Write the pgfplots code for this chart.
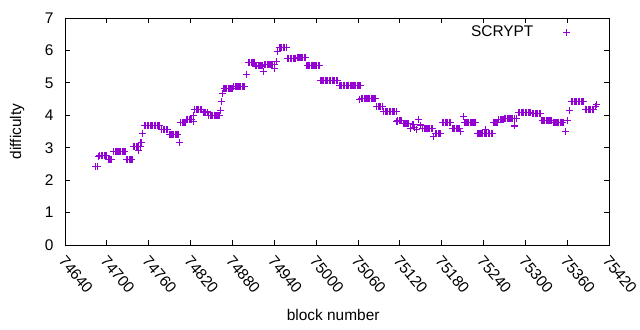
\documentclass[border=0pt]{standalone}
\usepackage{fontspec}
\setmainfont{Liberation Sans}
\usepackage{pgfplots}
\pgfplotsset{compat=1.18}
\definecolor{scrypt}{RGB}{148,0,211}
\begin{document}
\begin{tikzpicture}[font=\fontsize{15.5}{18}\selectfont]
\begin{axis}[
  scale only axis, width=544bp, height=227bp,
  xmin=74640, xmax=75420, ymin=0, ymax=7,
  xtick={74640,74700,...,75420}, ytick={0,1,...,7},
  tick align=inside, major tick length=5bp,
  axis line style={line width=0.8bp}, every tick/.style={line width=0.8bp, black},
  scaled x ticks=false,
  /pgf/number format/1000 sep={},
  /pgf/number format/assume math mode=true,
  xticklabel style={rotate=-50, anchor=north west, inner sep=1bp, yshift=-4bp, xshift=7bp},
  yticklabel style={xshift=-8bp},
  xlabel={block number}, ylabel={difficulty},
  every axis x label/.style={at={(axis description cs:0.493,-0.308)}, anchor=center},
  every axis y label/.style={at={(axis description cs:-0.088,0.5)}, rotate=90, anchor=center},
  legend plot pos=right, legend cell align=right,
  legend image code/.code={\path (0bp,0bp) (36bp,0bp); \draw[scrypt, line width=0.8bp] (27.5bp,0bp) -- (34.5bp,0bp) (31bp,-3.5bp) -- (31bp,3.5bp);},
  legend style={draw=none, fill=none, at={(1,1)}, anchor=north east, xshift=-34bp, yshift=-4bp},
]
\addplot[only marks, mark=+, mark size=3.5bp, color=scrypt, draw=scrypt, mark options={draw=scrypt, line width=1.1bp}] coordinates {
(74684,2.43)(74686,2.43)(74688,2.74)
(74690,2.76)(74692,2.76)(74694,2.76)(74696,2.76)(74698,2.76)(74700,2.76)
(74702,2.65)(74704,2.65)(74706,2.65)
(74710,2.87)(74712,2.87)(74714,2.87)(74716,2.87)(74718,2.87)(74720,2.87)(74722,2.87)(74724,2.87)(74726,2.87)
(74728,2.63)(74730,2.63)(74732,2.63)(74734,2.63)(74736,2.63)
(74738,3.05)(74740,3.05)(74742,3.05)(74744,3.05)(74746,3.05)(74748,3.05)
(74746,2.92)(74749,3.17)(74751,3.44)
(74754,3.68)(74756,3.68)(74758,3.68)(74760,3.68)(74762,3.68)(74764,3.68)(74766,3.68)(74768,3.68)(74770,3.68)(74772,3.68)(74774,3.68)(74776,3.68)
(74779,3.55)(74781,3.55)(74783,3.55)(74785,3.55)(74787,3.55)
(74790,3.42)(74792,3.42)(74794,3.42)(74796,3.42)(74798,3.42)(74800,3.42)(74802,3.42)
(74804,3.17)
(74806,3.78)(74808,3.78)(74810,3.78)(74812,3.78)
(74814,3.87)(74816,3.87)(74818,3.87)(74820,3.87)(74822,3.87)
(74824,4.0)(74824,3.8)
(74826,4.18)(74828,4.18)(74830,4.18)(74832,4.18)(74834,4.18)(74836,4.18)
(74838,4.1)(74840,4.1)(74842,4.1)(74844,4.1)
(74846,4.0)(74848,4.0)(74850,4.0)(74852,4.0)(74854,4.0)(74856,4.0)(74858,4.0)(74860,4.0)(74862,4.0)
(74863,4.16)(74865,4.42)(74866,4.68)
(74868,4.83)(74870,4.83)(74872,4.83)(74874,4.83)(74876,4.83)(74878,4.83)(74880,4.83)
(74882,4.88)(74884,4.88)(74886,4.88)(74888,4.88)(74890,4.88)(74892,4.88)(74894,4.88)(74896,4.88)(74898,4.88)
(74900,5.26)
(74903,5.64)(74905,5.64)(74907,5.64)(74909,5.64)(74911,5.64)
(74913,5.52)(74915,5.52)(74917,5.52)(74919,5.52)(74921,5.52)(74923,5.52)
(74924,5.35)
(74926,5.57)(74928,5.57)(74930,5.57)(74932,5.57)(74934,5.57)(74936,5.57)(74938,5.57)(74940,5.57)
(74941,5.45)(74943,5.65)(74945,5.96)
(74947,6.1)(74949,6.1)(74951,6.1)(74953,6.1)(74955,6.1)(74957,6.1)
(74959,5.76)(74961,5.76)(74963,5.76)(74965,5.76)(74967,5.76)(74969,5.76)(74971,5.76)
(74973,5.79)(74975,5.79)(74977,5.79)(74979,5.79)(74981,5.79)(74983,5.79)(74985,5.79)
(74987,5.54)(74989,5.54)(74991,5.54)(74993,5.54)(74995,5.54)(74997,5.54)(74999,5.54)(75001,5.54)(75003,5.54)(75005,5.54)
(75007,5.08)(75009,5.08)(75011,5.08)(75013,5.08)(75015,5.08)(75017,5.08)(75019,5.08)(75021,5.08)(75023,5.08)(75025,5.08)(75027,5.08)(75029,5.08)(75031,5.08)
(75033,4.93)(75035,4.93)(75037,4.93)(75039,4.93)(75041,4.93)(75043,4.93)(75045,4.93)(75047,4.93)(75049,4.93)(75051,4.93)(75053,4.93)(75055,4.93)(75057,4.93)(75059,4.93)(75061,4.93)(75063,4.93)
(75062,4.49)
(75065,4.52)(75067,4.52)(75069,4.52)(75071,4.52)(75073,4.52)(75075,4.52)(75077,4.52)(75079,4.52)(75081,4.52)(75083,4.52)(75085,4.52)
(75087,4.28)(75089,4.28)(75091,4.28)(75093,4.28)(75095,4.28)
(75097,4.12)(75099,4.12)(75101,4.12)(75103,4.12)(75105,4.12)(75107,4.12)(75109,4.12)(75111,4.12)(75113,4.12)(75115,4.12)
(75116,3.8)
(75117,3.83)(75119,3.83)(75121,3.83)(75123,3.83)
(75125,3.74)(75127,3.74)(75129,3.74)(75131,3.74)(75133,3.74)
(75135,3.6)(75139,3.72)(75141,3.62)(75144,3.55)(75147,3.88)(75150,3.7)
(75153,3.59)(75155,3.59)(75157,3.59)(75159,3.59)(75161,3.59)(75163,3.59)(75165,3.59)(75167,3.59)
(75169,3.34)
(75171,3.44)(75173,3.44)(75175,3.44)(75177,3.44)(75179,3.44)
(75181,3.79)(75183,3.79)(75185,3.79)(75187,3.79)(75189,3.79)(75191,3.79)(75193,3.79)
(75195,3.6)(75197,3.6)(75199,3.6)(75201,3.6)(75203,3.6)(75205,3.6)
(75207,3.49)(75212,3.96)
(75213,3.79)(75215,3.79)(75217,3.79)(75219,3.79)(75221,3.79)(75223,3.79)(75225,3.79)(75227,3.79)(75229,3.79)
(75231,3.45)(75233,3.45)(75235,3.45)(75237,3.45)(75239,3.45)(75241,3.45)(75243,3.45)(75245,3.45)(75247,3.45)(75249,3.45)(75251,3.45)(75253,3.45)
(75243,3.57)
(75254,3.77)(75256,3.77)(75258,3.77)(75260,3.77)
(75262,3.87)(75264,3.87)(75266,3.87)(75268,3.87)
(75270,3.91)(75272,3.91)(75274,3.91)(75276,3.91)(75278,3.91)(75280,3.91)(75282,3.91)(75284,3.91)
(75285,3.67)(75288,3.9)
(75290,4.09)(75292,4.09)(75294,4.09)(75296,4.09)(75298,4.09)(75300,4.09)(75302,4.09)(75304,4.09)(75306,4.09)(75308,4.09)
(75310,4.05)(75312,4.05)(75314,4.05)(75316,4.05)(75318,4.05)(75320,4.05)(75322,4.05)
(75324,3.84)(75326,3.84)(75328,3.84)(75330,3.84)(75332,3.84)(75334,3.84)(75336,3.84)(75338,3.84)
(75340,3.78)(75342,3.78)(75344,3.78)(75346,3.78)(75348,3.78)(75350,3.78)(75352,3.78)(75354,3.78)
(75358,3.49)(75361,3.85)(75363,4.14)
(75366,4.42)(75368,4.42)(75370,4.42)(75372,4.42)(75374,4.42)(75376,4.42)(75378,4.42)(75380,4.42)(75382,4.42)(75384,4.42)
(75386,4.18)(75388,4.18)(75390,4.18)(75392,4.18)(75394,4.18)(75396,4.18)(75398,4.18)
(75401,4.28)(75402,4.33)
};
\addlegendentry{SCRYPT}
\end{axis}
\path[use as bounding box] (-65bp,-85bp) rectangle (575bp,245bp);
\end{tikzpicture}
\end{document}
